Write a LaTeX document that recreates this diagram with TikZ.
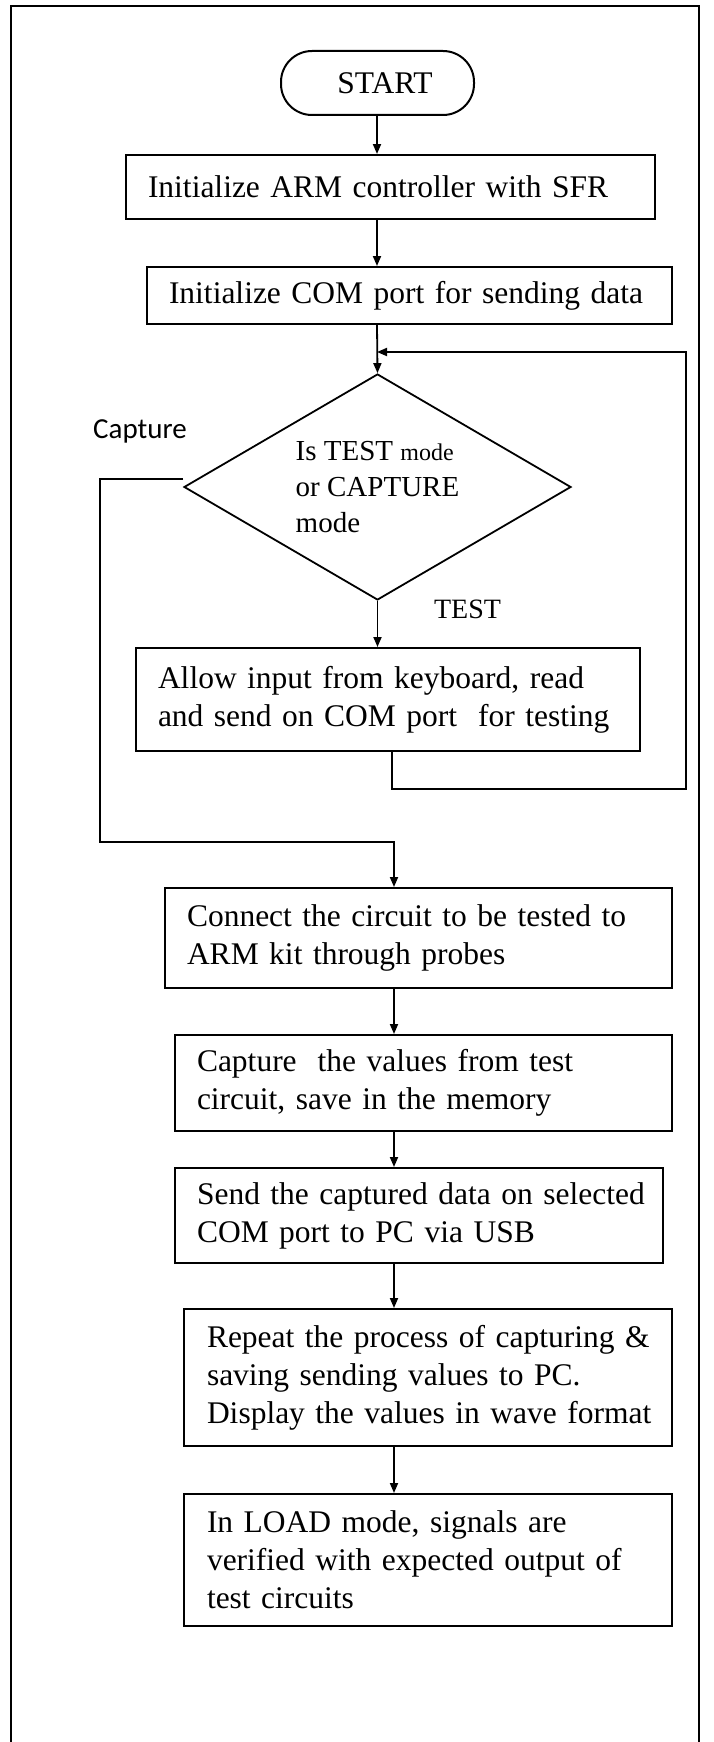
\documentclass[tikz,border=0pt]{standalone}
\usepackage{fontspec}
\setmainfont{Liberation Serif}
\newfontfamily\capfont{Carlito}
\usetikzlibrary{arrows.meta,shapes.geometric,calc}
\newcommand{\lnx}[1]{\mbox{#1}}
\tikzset{
  box/.style={draw, line width=2pt, align=left, inner ysep=0pt,
    font=\fontsize{31.5}{38}\selectfont},
  arr/.style={line width=1.8pt, -{Triangle[length=10pt,width=8pt]}},
  frame/.style={line width=2.2pt},
  lbl/.style={inner sep=0pt, anchor=base}
}
\begin{document}
\begin{tikzpicture}[x=1pt,y=-1pt]
\useasboundingbox (0,0) rectangle (713,1742);
% outer frame (bottom edge lies outside the picture)
\draw[frame] (11,1742) -- (11,6) -- (699,6) -- (699,1742);

% spines
\coordinate (s1) at (377,0);
\coordinate (s2) at (394,0);

\node[draw, line width=2pt, rounded corners=31pt, minimum width=193pt, minimum height=64pt,
  font=\fontsize{31.5}{38}\selectfont] (start) at (377.5,83) {\hspace*{15pt}START};

\node[box, inner xsep=22pt, text width=485pt, minimum height=64pt] (b1) at (390.5,187)
  {\lnx{Initialize ARM controller with SFR}};
\node[box, inner xsep=22pt, text width=481pt, minimum height=57pt] (b2) at (409.5,295.5)
  {\lnx{Initialize COM port for sending data}};

\node[draw, diamond, line width=1.8pt, minimum width=387pt, minimum height=226pt, aspect=1.71,
  inner sep=0pt, align=left, font=\fontsize{29}{36}\selectfont] (dec) at (377.5,487)
  {Is TEST {\fontsize{24}{36}\selectfont mode}\\or CAPTURE\\mode};

\node[box, inner xsep=22pt, text width=460pt, minimum height=103pt] (allow) at (388,699.5)
  {\lnx{Allow input from keyboard, read}\\\lnx{and send on COM port\ \ for testing}};

\node[box, inner xsep=22pt, text width=463pt, minimum height=100pt] (cnct) at (418.5,938)
  {\lnx{Connect the circuit to be tested to}\\\lnx{ARM kit through probes}};
\node[box, inner xsep=22pt, text width=453pt, minimum height=96pt] (capt) at (423.5,1083)
  {\lnx{Capture\ \ the values from test}\\\lnx{circuit, save in the memory}};
\node[box, inner xsep=22pt, text width=444pt, minimum height=95pt] (send) at (419,1215.5)
  {\lnx{Send the captured data on selected}\\\lnx{COM port to PC via USB}};
\node[box, inner xsep=23pt, text width=442pt, minimum height=137pt] (rep) at (428,1377.5)
  {\lnx{Repeat the process of capturing \&}\\\lnx{saving sending values to PC.}\\\lnx{Display the values in wave format}};
\node[box, inner xsep=23pt, text width=442pt, minimum height=132pt] (load) at (428,1560)
  {\lnx{In LOAD mode, signals are}\\\lnx{verified with expected output of}\\\lnx{test circuits}};

% labels
\node[lbl, font=\capfont\fontsize{29}{34}\selectfont] (lcap) at (140,438) {Capture};
\node[lbl, font=\fontsize{28}{34}\selectfont] (ltest) at (467.5,618) {TEST};

% connectors
\draw[arr] (start.south -| s1) -- (b1.north -| s1);
\draw[arr] (b1.south -| s1) -- (b2.north -| s1);
\draw[arr] (b2.south -| s1) -- (dec.north);
\draw[arr] (dec.south) -- (allow.north -| dec.south);

\coordinate (loopR) at (686,352);
\draw[arr] ($(allow.south)+(4,0)$) -- ++(0,37) -| (loopR) -- (loopR -| s1);

\coordinate (capL) at (100,842);
\draw[arr] ($(dec.west)+(0,-8)$) -| (capL) -| (cnct.north -| s2);

\draw[arr] (cnct.south -| s2) -- (capt.north -| s2);
\draw[arr] (capt.south -| s2) -- (send.north -| s2);
\draw[arr] (send.south -| s2) -- (rep.north -| s2);
\draw[arr] (rep.south -| s2) -- (load.north -| s2);
\end{tikzpicture}
\end{document}
